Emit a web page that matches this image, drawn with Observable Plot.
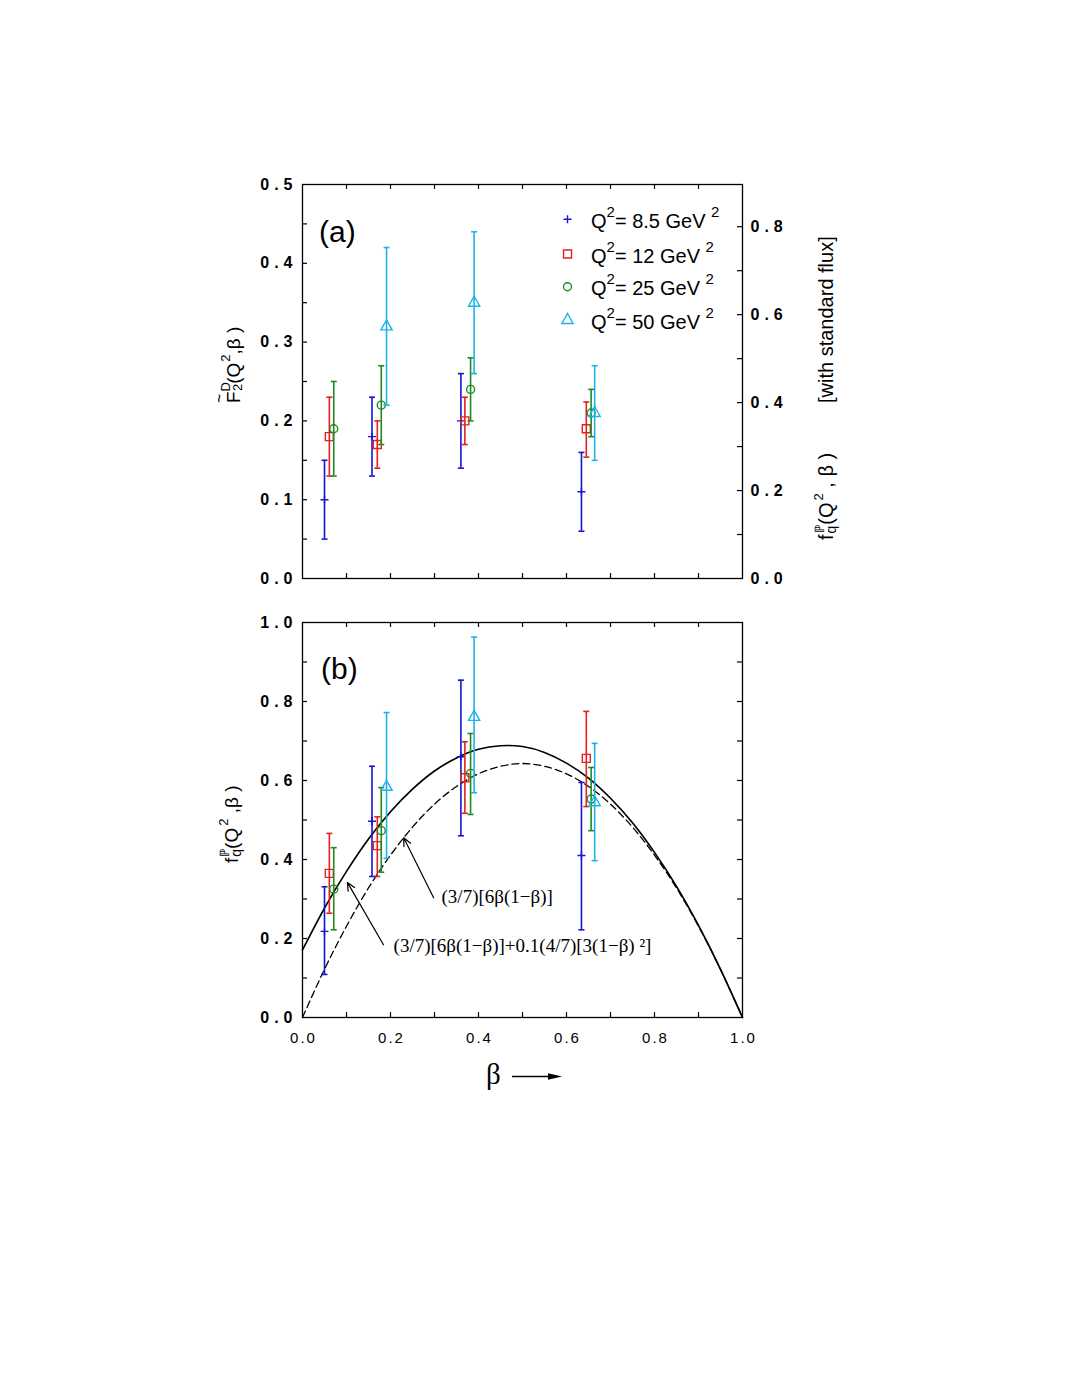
<!DOCTYPE html>
<html><head><meta charset="utf-8">
<script src="https://cdn.jsdelivr.net/npm/d3@7"></script>
<script src="https://cdn.jsdelivr.net/npm/@observablehq/plot@0.6"></script>
<style>
html,body{margin:0;padding:0;background:#fff;}
#wrap{position:relative;width:1069px;height:1384px;background:#fff;overflow:hidden;}
#wrap > svg{position:absolute;left:0;}
</style></head><body><div id="wrap"></div>
<script>
// ---------------- data ----------------
const seriesNames  = ["8.5", "12", "25", "50"];
const seriesColors = ["#1515d4", "#e3221f", "#1f8b1f", "#1db3ea"];

// beta positions of the points (per series)
const beta85 = [0.050, 0.158, 0.360, 0.634];
const beta12 = [0.061, 0.170, 0.369, 0.645];
const beta25 = [0.071, 0.179, 0.382, 0.656];
const beta50 = [0.191, 0.390, 0.664];

// panel (a): F2D~(Q2, beta)
const F2_85   = [0.100, 0.180, 0.200, 0.110];
const F2lo_85 = [0.050, 0.130, 0.140, 0.060];
const F2hi_85 = [0.150, 0.230, 0.260, 0.160];
const F2_12   = [0.180, 0.170, 0.200, 0.190];
const F2lo_12 = [0.130, 0.140, 0.170, 0.154];
const F2hi_12 = [0.230, 0.200, 0.230, 0.224];
const F2_25   = [0.190, 0.220, 0.240, 0.210];
const F2lo_25 = [0.130, 0.170, 0.200, 0.180];
const F2hi_25 = [0.250, 0.270, 0.280, 0.240];
const F2_50   = [0.320, 0.350, 0.210];
const F2lo_50 = [0.220, 0.260, 0.150];
const F2hi_50 = [0.420, 0.440, 0.270];

// panel (b): f_q^P(Q2, beta)
const fq_85   = [0.218, 0.497, 0.660, 0.410];
const fqlo_85 = [0.109, 0.357, 0.460, 0.222];
const fqhi_85 = [0.331, 0.636, 0.854, 0.595];
const fq_12   = [0.365, 0.435, 0.607, 0.656];
const fqlo_12 = [0.264, 0.357, 0.517, 0.534];
const fqhi_12 = [0.466, 0.508, 0.698, 0.775];
const fq_25   = [0.325, 0.473, 0.618, 0.553];
const fqlo_25 = [0.222, 0.368, 0.514, 0.473];
const fqhi_25 = [0.430, 0.582, 0.719, 0.633];
const fq_50   = [0.584, 0.761, 0.545];
const fqlo_50 = [0.403, 0.569, 0.397];
const fqhi_50 = [0.772, 0.963, 0.694];

// curves
const curveBeta  = [0,0.05,0.1,0.15,0.2,0.25,0.3,0.35,0.4,0.45,0.5,0.55,0.6,0.65,0.7,0.75,0.8,0.85,0.9,0.95,1.0];
const solidVals  = [0.171,0.277,0.370,0.452,0.521,0.578,0.624,0.657,0.679,0.688,0.686,0.671,0.644,0.606,0.555,0.493,0.418,0.332,0.233,0.122,0];
const dashedVals = [0,0.122,0.231,0.328,0.411,0.482,0.540,0.585,0.617,0.636,0.643,0.636,0.617,0.585,0.540,0.482,0.411,0.328,0.231,0.122,0];

// annotations (panel b)
const annotTexts = ["(3/7)[6β(1−β)]", "(3/7)[6β(1−β)]+0.1(4/7)[3(1−β) ²]"];
const annotTextX = [0.316, 0.207];
const annotTextY = [0.306, 0.180];
const arrowTailX = [0.298, 0.184];
const arrowTailY = [0.303, 0.184];
const arrowTipX  = [0.230, 0.102];
const arrowTipY  = [0.455, 0.342];

// ticks
const xMinorTicks = [0.1,0.2,0.3,0.4,0.5,0.6,0.7,0.8,0.9];
const xLabelTicks = [0,0.2,0.4,0.6,0.8,1.0];
const yTicksA = [0.05,0.1,0.15,0.2,0.25,0.3,0.35,0.4,0.45];
const yLabelsA = [0,0.1,0.2,0.3,0.4,0.5];
const rightTicksA = [0.1,0.2,0.3,0.4,0.5,0.6,0.7,0.8];
const rightLabelsA = [0,0.2,0.4,0.6,0.8];
const fluxFactor = 1.792; // f_q (standard flux) = fluxFactor * F2D
const yTicksB = [0.1,0.2,0.3,0.4,0.5,0.6,0.7,0.8,0.9];
const yLabelsB = [0,0.2,0.4,0.6,0.8,1.0];

// ---------------- helpers ----------------
const SANS = "'Liberation Sans', Arial, Helvetica, sans-serif";
const SERIF = "'Liberation Serif', 'Times New Roman', serif";

const capSym    = {draw(c){c.moveTo(-3,0);c.lineTo(3,0);}};
const plusSym   = {draw(c){c.moveTo(-4,0);c.lineTo(4,0);c.moveTo(0,-4);c.lineTo(0,4);}};
const squareSym = {draw(c){c.rect(-4,-4,8,8);}};
const circleSym = {draw(c){c.moveTo(4,0);c.arc(0,0,4,0,2*Math.PI);}};
const triSym    = {draw(c){c.moveTo(0,-6.5);c.lineTo(5.6,3.5);c.lineTo(-5.6,3.5);c.closePath();}};
const seriesSyms = [plusSym, squareSym, circleSym, triSym];

function rows(series, betas, v, lo, hi){
  return betas.map((b,i)=>({series, beta:b, v:v[i], lo:lo[i], hi:hi[i]}));
}
const groupsA = [
  rows("8.5", beta85, F2_85, F2lo_85, F2hi_85),
  rows("12",  beta12, F2_12, F2lo_12, F2hi_12),
  rows("25",  beta25, F2_25, F2lo_25, F2hi_25),
  rows("50",  beta50, F2_50, F2lo_50, F2hi_50)
];
const groupsB = [
  rows("8.5", beta85, fq_85, fqlo_85, fqhi_85),
  rows("12",  beta12, fq_12, fqlo_12, fqhi_12),
  rows("25",  beta25, fq_25, fqlo_25, fqhi_25),
  rows("50",  beta50, fq_50, fqlo_50, fqhi_50)
];

function pointMarks(groups){
  const out = [];
  groups.forEach((g,i)=>{
    const col = seriesColors[i];
    out.push(Plot.ruleX(g, {x:"beta", y1:"lo", y2:"hi", stroke:col, strokeWidth:1.6}));
    out.push(Plot.dot(g, {x:"beta", y:"lo", symbol:capSym, stroke:col, fill:"none", strokeWidth:1.6}));
    out.push(Plot.dot(g, {x:"beta", y:"hi", symbol:capSym, stroke:col, fill:"none", strokeWidth:1.6}));
    out.push(Plot.dot(g, {x:"beta", y:"v", symbol:seriesSyms[i], stroke:col, fill:"none", strokeWidth:1.4}));
  });
  return out;
}
function inwardTicks(fw, fh, xs, yl, yr){
  const L = 5;
  return [
    Plot.tickX(xs, {x:d=>d, insetTop: fh-L, stroke:"#000", strokeWidth:1.2}),
    Plot.tickX(xs, {x:d=>d, insetBottom: fh-L, stroke:"#000", strokeWidth:1.2}),
    Plot.tickY(yl, {y:d=>d, insetRight: fw-L, stroke:"#000", strokeWidth:1.2}),
    Plot.tickY(yr, {y:d=>d, insetLeft: fw-L, stroke:"#000", strokeWidth:1.2})
  ];
}

const W = 1069;
const mL = 302, mR = W - 742;
const fw = 742 - 302;

// ---------------- panel (a) ----------------
const hA = 600, topA = 184, botA = 578;
const plotA = Plot.plot({
  width: W, height: hA,
  marginTop: topA, marginBottom: hA - botA, marginLeft: mL, marginRight: mR,
  style: {fontFamily: SANS, background: "transparent", overflow: "visible"},
  x: {domain: [0,1], axis: null},
  y: {domain: [0,0.5], axis: null},
  marks: [
    ...inwardTicks(fw, botA-topA, xMinorTicks, yTicksA, rightTicksA.map(r=>r/fluxFactor)),
    ...pointMarks(groupsA),
    Plot.axisY(yLabelsA, {anchor:"left", tickSize:0, tickPadding:5, tickFormat:d3.format(".1f"),
      label:null, fontSize:16, fontWeight:"bold"}),
    Plot.axisY(rightLabelsA.map(r=>r/fluxFactor), {anchor:"right", tickSize:0, tickPadding:8,
      tickFormat:d=>(d*fluxFactor).toFixed(1), label:null, fontSize:16, fontWeight:"bold"}),
    Plot.frame({stroke:"#000", strokeWidth:1.3})
  ]
});

// ---------------- panel (b) ----------------
const offB = 600, hB = 500, topB = 622 - offB, botB = 1017 - offB;
const curveRows = curveBeta.map((b,i)=>({beta:b, solid:solidVals[i], dashed:dashedVals[i]}));
const annots = annotTexts.map((t,i)=>({t, x:annotTextX[i], y:annotTextY[i],
  x1:arrowTailX[i], y1:arrowTailY[i], x2:arrowTipX[i], y2:arrowTipY[i]}));
const plotB = Plot.plot({
  width: W, height: hB,
  marginTop: topB, marginBottom: hB - botB, marginLeft: mL, marginRight: mR,
  style: {fontFamily: SANS, background: "transparent", overflow: "visible"},
  x: {domain: [0,1]},
  y: {domain: [0,1]},
  marks: [
    ...inwardTicks(fw, botB-topB, xMinorTicks, yTicksB, yTicksB),
    Plot.line(curveRows, {x:"beta", y:"solid", curve:"natural", stroke:"#000", strokeWidth:1.7}),
    Plot.line(curveRows, {x:"beta", y:"dashed", curve:"natural", stroke:"#000", strokeWidth:1.3, strokeDasharray:"7,4"}),
    ...pointMarks(groupsB),
    Plot.arrow(annots, {x1:"x1", y1:"y1", x2:"x2", y2:"y2", stroke:"#000", strokeWidth:1.2, headLength:11, headAngle:50}),
    Plot.text(annots, {x:"x", y:"y", text:"t", textAnchor:"start", fontFamily:SERIF, fontSize:19, fill:"#000"}),
    Plot.axisY(yLabelsB, {anchor:"left", tickSize:0, tickPadding:5, tickFormat:d3.format(".1f"),
      label:null, fontSize:16, fontWeight:"bold"}),
    Plot.axisX(xLabelTicks, {anchor:"bottom", tickSize:0, tickPadding:15, tickFormat:d3.format(".1f"),
      label:null, dx:1, fontSize:15}),
    Plot.frame({stroke:"#000", strokeWidth:1.3})
  ]
});

const wrap = document.getElementById("wrap");
plotA.style.top = "0px"; plotB.style.top = offB + "px";
wrap.appendChild(plotA); wrap.appendChild(plotB);

for (const svg of [plotA, plotB]) {
  d3.select(svg).selectAll('g[aria-label="y-axis tick label"]').attr("letter-spacing", "5px");
  d3.select(svg).selectAll('g[aria-label="x-axis tick label"]').attr("letter-spacing", "2px");
}

// ---------------- overlay text (labels, legend) ----------------
const ov = d3.select(wrap).append("svg").attr("width", W).attr("height", 1384)
  .style("top","0px").style("pointer-events","none").style("overflow","visible");

function rich(x, y, parts, {size=18, family=SANS, rotate=0, weight="normal"}={}) {
  const g = ov.append("g").attr("transform", `translate(${x},${y}) rotate(${rotate})`);
  const t = g.append("text").attr("font-family", family).attr("font-size", size)
    .attr("font-weight", weight).attr("fill", "#000");
  let cur = 0;
  for (const p of parts) {
    const off = p.off || 0;
    const ts = t.append("tspan").text(p.t).attr("dy", off - cur);
    if (p.size) ts.attr("font-size", p.size);
    if (p.dx) ts.attr("dx", p.dx);
    if (p.x != null) ts.attr("x", p.x);
    cur = off;
  }
  return g;
}

// panel labels
rich(319, 242, [{t:"(a)"}], {size:30});
rich(321, 679, [{t:"(b)"}], {size:30});

// left label panel (a): F~_2^D(Q^2, beta)
{
  const g = rich(240, 403, [
    {t:"F"}, {t:"D", size:13, off:-10, dx:0}, {t:"2", size:13, off:2, dx:-9},
    {t:"(Q"}, {t:"2", size:13, off:-10, dx:1}, {t:",β )"}
  ], {size:19, rotate:-90});
  g.append("text").attr("x", 0).attr("y", -15).attr("font-family", SANS).attr("font-size", 16).text("~");
}
// right label panel (a)
rich(833, 540, [
  {t:"f"}, {t:"ℙ", size:13, off:-9, dx:1}, {t:"q", size:14, off:3, dx:-9},
  {t:"(Q", dx:1}, {t:"2", size:13, off:-10, dx:2}, {t:" , β )"},
  {t:"[with standard flux]", x:137}
], {size:20, rotate:-90});
// left label panel (b)
rich(238, 863, [
  {t:"f"}, {t:"ℙ", size:13, off:-9, dx:1}, {t:"q", size:14, off:3, dx:-9},
  {t:"(Q"}, {t:"2", size:13, off:-10, dx:2}, {t:" ,β )"}
], {size:19, rotate:-90});

// x label: beta with arrow
rich(486, 1084, [{t:"β"}], {size:29, family:SERIF});
ov.append("line").attr("x1",512).attr("x2",552).attr("y1",1076.5).attr("y2",1076.5)
  .attr("stroke","#000").attr("stroke-width",1.3);
ov.append("path").attr("d","M548,1073.2L562,1076.5L548,1079.8Z").attr("fill","#000");

// legend
const legendRowsY = [219.3, 254, 286.8, 320];
seriesNames.forEach((name,i)=>{
  ov.append("path").attr("transform",`translate(567.5,${legendRowsY[i]})`)
    .attr("d", d3.symbol(seriesSyms[i])()).attr("fill","none")
    .attr("stroke", seriesColors[i]).attr("stroke-width", 1.4);
  rich(591, legendRowsY[i] + 8.5, [
    {t:"Q"}, {t:"2", size:15, off:-11}, {t:"= " + name + " GeV "}, {t:"2", size:15, off:-11}
  ], {size:20});
});
</script></body></html>
